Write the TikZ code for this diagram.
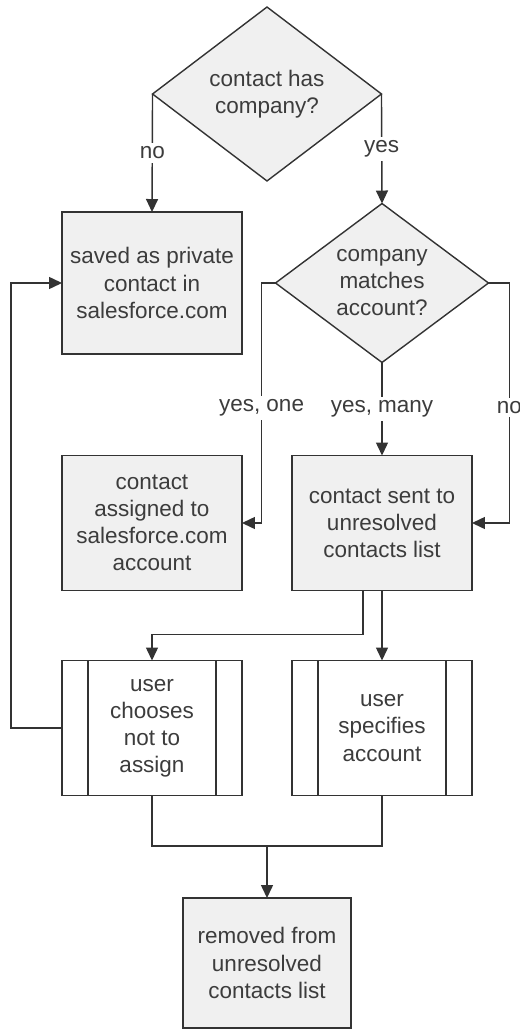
\documentclass[tikz,border=0pt]{standalone}
\usepackage{fontspec}
\setmainfont{Liberation Sans}
\usetikzlibrary{arrows.meta, shapes.geometric}
\definecolor{flowline}{RGB}{51,51,51}
\definecolor{flowfill}{RGB}{240,240,240}
\definecolor{flowtext}{RGB}{60,60,60}
\tikzset{
  box/.style      = {draw=flowline, fill=flowfill, line width=0.8pt, align=center,
                     text=flowtext, inner sep=0pt, outer sep=0pt,
                     minimum width=3.6cm, minimum height=2.7cm},
  wbox/.style     = {box, fill=white,
                     path picture={\draw[flowline, line width=0.8pt]
                       ([xshift=0.52cm]path picture bounding box.north west) --
                       ([xshift=0.52cm]path picture bounding box.south west)
                       ([xshift=-0.52cm]path picture bounding box.north east) --
                       ([xshift=-0.52cm]path picture bounding box.south east);}},
  decision/.style = {diamond, draw=flowline, fill=flowfill, line width=0.8pt,
                     align=center, text=flowtext, inner sep=0pt, outer sep=0pt},
  arrow/.style    = {-{Triangle[length=0.26cm, width=0.24cm]}, line width=0.8pt, draw=flowline},
  link/.style     = {line width=0.8pt, draw=flowline},
  lbl/.style      = {fill=white, text=flowtext, inner sep=2pt},
}

\begin{document}
\begin{tikzpicture}[x=0.02cm, y=-0.02cm,
    every node/.style={font=\fontsize{12.8}{15.4}\selectfont}]
  \useasboundingbox (0,0) rectangle (520,1030);
  % decisions
  \node[decision, minimum width=4.58cm, minimum height=3.48cm] (has) at (267,94) {contact has\\company?};
  \node[decision, minimum width=4.26cm, minimum height=3.18cm] (match) at (382,283) {company\\matches\\account?};
  % boxes
  \node[box, minimum height=2.84cm] (saved) at (152,283) {saved as private\\contact in\\salesforce.com};
  \node[box] (assigned) at (152,523) {contact\\assigned to\\salesforce.com\\account};
  \node[box] (sent) at (382,523) {contact sent to\\unresolved\\contacts list};
  \node[wbox] (skip) at (152,728) {user\\chooses\\not to\\assign};
  \node[wbox] (specify) at (382,728) {user\\specifies\\account};
  \node[box, minimum width=3.36cm, minimum height=2.6cm] (removed) at (267,963) {removed from\\unresolved\\contacts list};
  \coordinate (join) at (267,846);

  \draw[arrow] (has.west) -- node[lbl]{no} (saved.north);
  \draw[arrow] (has.east) -- node[lbl]{yes} (match.north);
  \draw[arrow] (match.west) -- ++(-14,0) |- node[lbl, pos=0.26]{yes, one} (assigned.east);
  \draw[arrow] (match.south) -- node[lbl]{yes, many} (sent.north);
  \draw[arrow] (match.east) -- ++(21,0) |- node[lbl, pos=0.26]{no} (sent.east);
  \draw[arrow] ([xshift=-0.38cm]sent.south) -- ++(0,44) -| (skip.north);
  \draw[arrow] (sent.south) -- (specify.north);
  \draw[arrow] (skip.west) -- ++(-51,0) |- (saved.west);
  \draw[link] (skip.south) |- (join) -| (specify.south);
  \draw[arrow] (join) -- (removed.north);
\end{tikzpicture}
\end{document}
